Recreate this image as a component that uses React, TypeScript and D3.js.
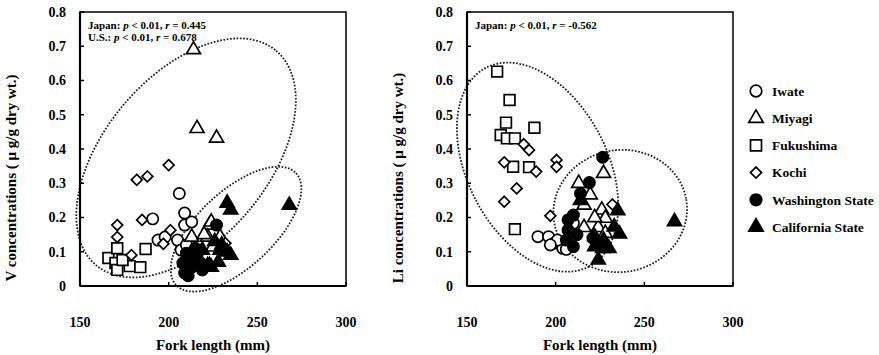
import React from "react";
import * as d3 from "d3";

// legend / series names
const sites = ["Iwate", "Miyagi", "Fukushima", "Kochi", "Washington State", "California State"];

const xTicks = [150, 200, 250, 300];
const yTicks = [0, 0.1, 0.2, 0.3, 0.4, 0.5, 0.6, 0.7, 0.8];
const yTickLabels = ["0", "0.1", "0.2", "0.3", "0.4", "0.5", "0.6", "0.7", "0.8"];

// V concentrations: [fork length mm, ug/g]
const iwateV = [[206, 0.27], [209, 0.213], [209, 0.178], [213, 0.187], [191, 0.196], [194, 0.134], [198, 0.143], [205, 0.134], [207, 0.105], [210, 0.12]];
const miyagiV = [[214, 0.69], [216, 0.46], [227, 0.432], [213, 0.143], [223, 0.178], [222, 0.143], [229, 0.143], [225, 0.114], [224, 0.187], [220, 0.15]];
const fukushimaV = [[166, 0.082], [171, 0.11], [170, 0.067], [171, 0.047], [178, 0.058], [184, 0.055], [187, 0.108], [174, 0.076]];
const kochiV = [[200, 0.353], [182, 0.31], [188, 0.32], [185, 0.193], [171, 0.178], [171, 0.143], [201, 0.163], [197, 0.123], [179, 0.09], [232, 0.125], [231, 0.105]];
const washingtonV = [[210, 0.096], [215, 0.11], [208, 0.067], [218, 0.067], [213, 0.055], [219, 0.047], [209, 0.038], [227, 0.178], [212, 0.08], [216, 0.09], [211, 0.03]];
const californiaV = [[233, 0.242], [235, 0.222], [268, 0.236], [235, 0.09], [223, 0.06], [229, 0.105], [233, 0.1], [222, 0.06], [224, 0.055], [219, 0.105], [226, 0.13], [230, 0.12], [228, 0.07]];

// Li concentrations
const iwateLi = [[190, 0.144], [196, 0.144], [199, 0.125], [204, 0.11], [201, 0.134], [197, 0.12], [210, 0.183], [206, 0.107]];
const miyagiLi = [[227, 0.329], [213, 0.3], [219.5, 0.266], [216, 0.236], [226, 0.222], [228, 0.198], [216, 0.171], [224, 0.171], [228, 0.154], [222, 0.2]];
const fukushimaLi = [[167, 0.626], [174, 0.543], [172, 0.477], [188, 0.462], [169, 0.441], [172.5, 0.431], [177, 0.431], [176, 0.348], [185, 0.347], [177, 0.166]];
const kochiLi = [[182, 0.414], [185, 0.397], [171, 0.361], [189, 0.334], [200.5, 0.368], [200.5, 0.348], [178, 0.285], [171, 0.246], [197, 0.205], [232, 0.238]];
const washingtonLi = [[226.5, 0.376], [219, 0.302], [214, 0.27], [210, 0.207], [207, 0.193], [207, 0.163], [210, 0.115], [206, 0.134], [212, 0.15], [221, 0.14]];
const californiaLi = [[235, 0.22], [233, 0.173], [236, 0.152], [222, 0.115], [226.5, 0.11], [230, 0.11], [224, 0.076], [267, 0.188], [222, 0.144], [227, 0.134], [214, 0.25]];

const shapes = [d3.symbolCircle, d3.symbolTriangle, d3.symbolSquare, d3.symbolDiamond2, d3.symbolCircle, d3.symbolTriangle];
const sizes = [100, 85, 115, 75, 100, 85];
const filled = [false, false, false, false, true, true];

const fontStyle = { fontFamily: '"Liberation Serif", "Times New Roman", Times, serif', fontWeight: 700 };
const W = 266;
const TOP = 12;
const BOTTOM = 286;

function Panel({ left, series, ellipses, yTitle, notes }) {
  const x = d3.scaleLinear().domain([150, 300]).range([left, left + W]);
  const y = d3.scaleLinear().domain([0, 0.8]).range([BOTTOM, TOP]);
  const titleY = 178;
  return (
    <g style={fontStyle}>
      {/* ellipses drawn first */}
      {ellipses.map((e, i) => (
        <ellipse key={"e" + i} cx={0} cy={0} rx={e.rx} ry={e.ry}
          transform={`translate(${x(e.cx)},${y(e.cy)}) rotate(${e.rot})`}
          fill="none" stroke="#222" strokeWidth={1.8} strokeDasharray="1.7 1.6" />
      ))}
      {series.map((pts, si) => (
        <g key={"s" + si}>
          {pts.map((d, i) => (
            <path key={i} d={d3.symbol().type(shapes[si]).size(sizes[si])()}
              transform={`translate(${x(d[0])},${y(d[1])})`}
              fill={filled[si] ? "#000" : "#fff"} stroke="#000" strokeWidth={1.7} />
          ))}
        </g>
      ))}
      {/* frame */}
      <rect x={left} y={TOP} width={W} height={BOTTOM - TOP} fill="none" stroke="#000" strokeWidth={1.5} />
      <line x1={left} x2={left} y1={TOP} y2={BOTTOM} stroke="#000" strokeWidth={2.2} />
      <line x1={left} x2={left + W} y1={BOTTOM} y2={BOTTOM} stroke="#000" strokeWidth={2.2} />
      {yTicks.map((t, i) => (
        <g key={"y" + i}>
          <line x1={left} x2={left + 4} y1={y(t)} y2={y(t)} stroke="#000" strokeWidth={1.5} />
          <text x={left - 14} y={y(t)} dy="0.35em" textAnchor="end" fontSize={14}>{yTickLabels[i]}</text>
        </g>
      ))}
      {xTicks.map((t, i) => (
        <g key={"x" + i}>
          <line x1={x(t)} x2={x(t)} y1={BOTTOM} y2={BOTTOM - 4} stroke="#000" strokeWidth={1.5} />
          <text x={x(t)} y={322} dy="0.35em" textAnchor="middle" fontSize={14}>{t}</text>
        </g>
      ))}
      <text x={left + W / 2} y={345} dy="0.35em" textAnchor="middle" fontSize={15}>Fork length (mm)</text>
      <text transform={`translate(${left - 64},${titleY}) rotate(-90)`} textAnchor="middle" fontSize={15}>{yTitle}</text>
      {notes.map((n, i) => (
        <text key={"n" + i} x={left + 8} y={28.5 + i * 12.5} fontSize={11}>
          {n.label}: <tspan fontStyle="italic">p</tspan> {"< 0.01, "}<tspan fontStyle="italic">r</tspan> = {n.r}
        </text>
      ))}
    </g>
  );
}

export default function App() {
  const legendX = 756;
  const legendY = d3.scaleLinear().domain([0, 5]).range([91, 227]);
  return (
    <svg width={879} height={355} style={{ position: "absolute", left: 0, top: 0, background: "#fff" }}>
      <rect width={879} height={355} fill="#fff" />
      <Panel left={80}
        series={[iwateV, miyagiV, fukushimaV, kochiV, washingtonV, californiaV]}
        ellipses={[
          { cx: 209.8, cy: 0.374, rx: 140, ry: 82, rot: -50 },
          { cx: 238, cy: 0.166, rx: 82, ry: 38, rot: -43 },
        ]}
        yTitle="V concentrations ( μ g/g dry wt.)"
        notes={[{ label: "Japan", r: "0.445" }, { label: "U.S.", r: "0.678" }]} />
      <Panel left={467}
        series={[iwateLi, miyagiLi, fukushimaLi, kochiLi, washingtonLi, californiaLi]}
        ellipses={[
          { cx: 189.8, cy: 0.347, rx: 112, ry: 70, rot: 62.7 },
          { cx: 236.4, cy: 0.219, rx: 67, ry: 61, rot: -10 },
        ]}
        yTitle="Li concentrations ( μ g/g dry wt.)"
        notes={[{ label: "Japan", r: "-0.562" }]} />
      <g style={fontStyle} fontSize={13.5}>
        {sites.map((s, i) => (
          <g key={s}>
            <path d={d3.symbol().type(shapes[i]).size(sizes[i] * 1.05)()}
              transform={`translate(${legendX},${legendY(i)})`}
              fill={filled[i] ? "#000" : "#fff"} stroke="#000" strokeWidth={1.7} />
            <text x={legendX + 16} y={legendY(i)} dy="0.35em">{s}</text>
          </g>
        ))}
      </g>
    </svg>
  );
}
